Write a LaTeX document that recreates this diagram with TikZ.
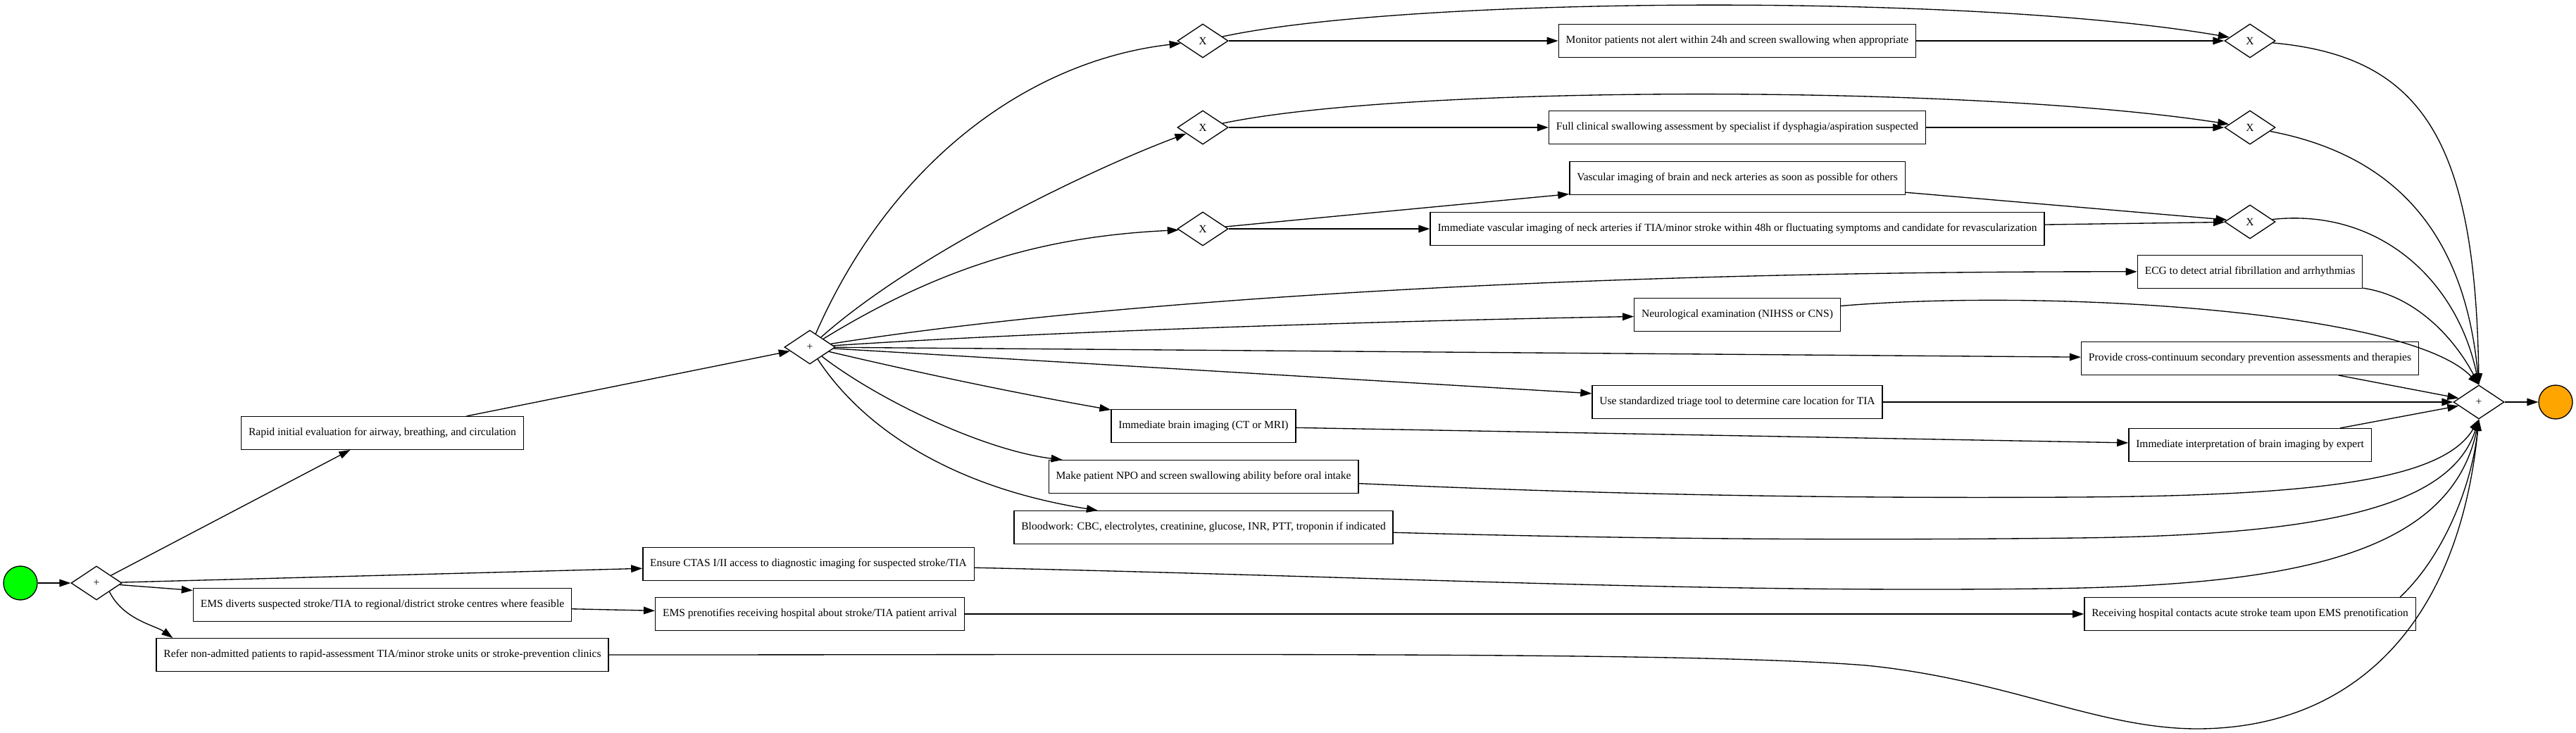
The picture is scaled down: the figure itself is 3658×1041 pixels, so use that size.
\documentclass[tikz,border=0pt]{standalone}
\usepackage{fontspec}
\setmainfont{Liberation Serif}
\usetikzlibrary{arrows.meta,shapes.geometric}

\tikzset{every picture/.style={line width=1pt}}
\tikzset{
  task/.style={draw,rectangle,minimum height=35pt,inner xsep=7.8pt,inner ysep=0pt,font=\fontsize{11.65pt}{14pt}\selectfont},
  gate/.style={draw,diamond,minimum width=54pt,minimum height=36pt,inner sep=0pt,font=\fontsize{11.65pt}{14pt}\selectfont},
  startev/.style={draw,circle,minimum size=36pt,inner sep=0pt,fill={rgb,255:red,0;green,255;blue,0}},
  endev/.style={draw,circle,minimum size=36pt,inner sep=0pt,fill={rgb,255:red,255;green,165;blue,0}},
  flow/.style={-{Triangle[length=12pt,width=8pt]}}
}

\begin{document}
\begin{tikzpicture}[x=0.75pt,y=0.75pt,yscale=-1,xscale=1]
\useasboundingbox (0,0) rectangle (3658,1041);

%Shape: Circle [id:start]
\node [startev] (start) at (29,828) {};
%Shape: Diamond [id:split]
\node [gate] (g0) at (137,828) {+};

% Text Node
\node [task] (rapid) at (543,615) {Rapid initial evaluation for airway, breathing, and circulation};
% Text Node
\node [task] (divert) at (543,859) {EMS diverts suspected stroke/TIA to regional/district stroke centres where feasible};
% Text Node
\node [task] (refer) at (543,930) {Refer non-admitted patients to rapid-assessment TIA/minor stroke units or stroke-prevention clinics};

%Shape: Diamond [id:fork]
\node [gate] (gA) at (1150,493) {+};
% Text Node
\node [task] (ensure) at (1148,801) {Ensure CTAS I/II access to diagnostic imaging for suspected stroke/TIA};
% Text Node
\node [task] (prenote) at (1150,872) {EMS prenotifies receiving hospital about stroke/TIA patient arrival};

%Shape: Diamond [id:choice]
\node [gate] (x1) at (1708,58) {X};
\node [gate] (x2) at (1708,181) {X};
\node [gate] (x3) at (1708,325) {X};
% Text Node
\node [task] (brainimg) at (1709,605) {Immediate brain imaging (CT or MRI)};
% Text Node
\node [task] (npo) at (1709,677) {Make patient NPO and screen swallowing ability before oral intake};
% Text Node
\node [task] (blood) at (1709,749) {Bloodwork: CBC, electrolytes, creatinine, glucose, INR, PTT, troponin if indicated};

% Text Node
\node [task] (monitor) at (2467,58) {Monitor patients not alert within 24h and screen swallowing when appropriate};
% Text Node
\node [task] (swallow) at (2467,181) {Full clinical swallowing assessment by specialist if dysphagia/aspiration suspected};
% Text Node
\node [task] (vascular) at (2467,253) {Vascular imaging of brain and neck arteries as soon as possible for others};
% Text Node
\node [task] (neckimg) at (2467,325) {Immediate vascular imaging of neck arteries if TIA/minor stroke within 48h or fluctuating symptoms and candidate for revascularization};
% Text Node
\node [task] (neuro) at (2467,447) {Neurological examination (NIHSS or CNS)};
% Text Node
\node [task] (triage) at (2467,571) {Use standardized triage tool to determine care location for TIA};

%Shape: Diamond [id:merge]
\node [gate] (y1) at (3195,58) {X};
\node [gate] (y2) at (3195,181) {X};
\node [gate] (y3) at (3195,315) {X};
% Text Node
\node [task] (ecg) at (3195,386) {ECG to detect atrial fibrillation and arrhythmias};
% Text Node
\node [task] (secondary) at (3195,509) {Provide cross-continuum secondary prevention assessments and therapies};
% Text Node
\node [task] (interp) at (3195,632) {Immediate interpretation of brain imaging by expert};
% Text Node
\node [task] (contact) at (3195,872) {Receiving hospital contacts acute stroke team upon EMS prenotification};

%Shape: Diamond [id:join]
\node [gate] (gB) at (3520,571) {+};
%Shape: Circle [id:end]
\node [endev] (stop) at (3629,571) {};

%Straight Lines
\draw [flow] (start) -- (g0);
\draw [flow] (g0) -- (rapid);
\draw [flow] (g0) -- (ensure);
\draw [flow] (g0) -- (divert);
\draw [flow] (g0.south east) .. controls +(20,40) and +(-25,-18) .. ([xshift=18pt]refer.north west);
\draw [flow] (rapid) -- (gA);
\draw [flow] (divert) -- (prenote);
\draw [flow] (prenote) -- (contact);

%Curve Lines
\draw [flow] (gA) .. controls (1270,220) and (1470,85) .. (x1);
\draw [flow] (gA) .. controls (1300,360) and (1550,240) .. (x2);
\draw [flow] (gA) .. controls (1350,370) and (1500,335) .. (x3);
\draw [flow] (gA) .. controls (1550,430) and (2200,385) .. (ecg);
\draw [flow] (gA) .. controls (1500,470) and (2000,455) .. (neuro);
\draw [flow] (gA) -- (secondary);
\draw [flow] (gA) -- (triage);
\draw [flow] (gA) .. controls (1350,540) and (1480,565) .. (brainimg);
\draw [flow] (gA) .. controls (1250,570) and (1400,640) .. (npo);
\draw [flow] (gA) .. controls (1220,600) and (1340,690) .. (blood);

\draw [flow] (x1) -- (monitor);
\draw [flow] (x1) .. controls (2000,-5) and (2800,-10) .. (y1);
\draw [flow] (monitor) -- (y1);
\draw [flow] (x2) -- (swallow);
\draw [flow] (x2) .. controls (2000,120) and (2800,120) .. (y2);
\draw [flow] (swallow) -- (y2);
\draw [flow] (x3) -- (vascular);
\draw [flow] (x3) -- (neckimg);
\draw [flow] (vascular) -- (y3);
\draw [flow] (neckimg) -- (y3);
\draw [flow] (brainimg) -- (interp);

\draw [flow] (y1) .. controls (3440,80) and (3515,200) .. (gB.north);
\draw [flow] (y2) .. controls (3400,220) and (3500,330) .. (gB.north);
\draw [flow] (y3) .. controls (3380,295) and (3490,400) .. (gB.north);
\draw [flow] (ecg) .. controls (3430,420) and (3485,480) .. (gB.north);
\draw [flow] (neuro) .. controls (2900,410) and (3420,440) .. (gB.north);
\draw [flow] (secondary) -- (gB);
\draw [flow] (triage) -- (gB);
\draw [flow] (interp) -- (gB);
\draw [flow] (npo) .. controls (2300,703) and (2600,708) .. (2950,706) .. controls (3300,704) and (3470,680) .. (gB.south);
\draw [flow] (blood) .. controls (2300,765) and (2600,768) .. (2950,764) .. controls (3300,760) and (3480,720) .. (gB.south);
\draw [flow] (ensure) .. controls (2000,820) and (2400,842) .. (2900,836) .. controls (3250,832) and (3480,790) .. (gB.south);
\draw [flow] ([xshift=-17pt]contact.north east) .. controls (3470,790) and (3510,690) .. (gB.south);
\draw [flow] (refer) .. controls (1700,930) and (2400,925) .. (2650,945) .. controls (2850,965) and (2980,1035) .. (3120,1035) .. controls (3330,1035) and (3490,900) .. (gB.south);
\draw [flow] (gB) -- (stop);

\end{tikzpicture}
\end{document}
